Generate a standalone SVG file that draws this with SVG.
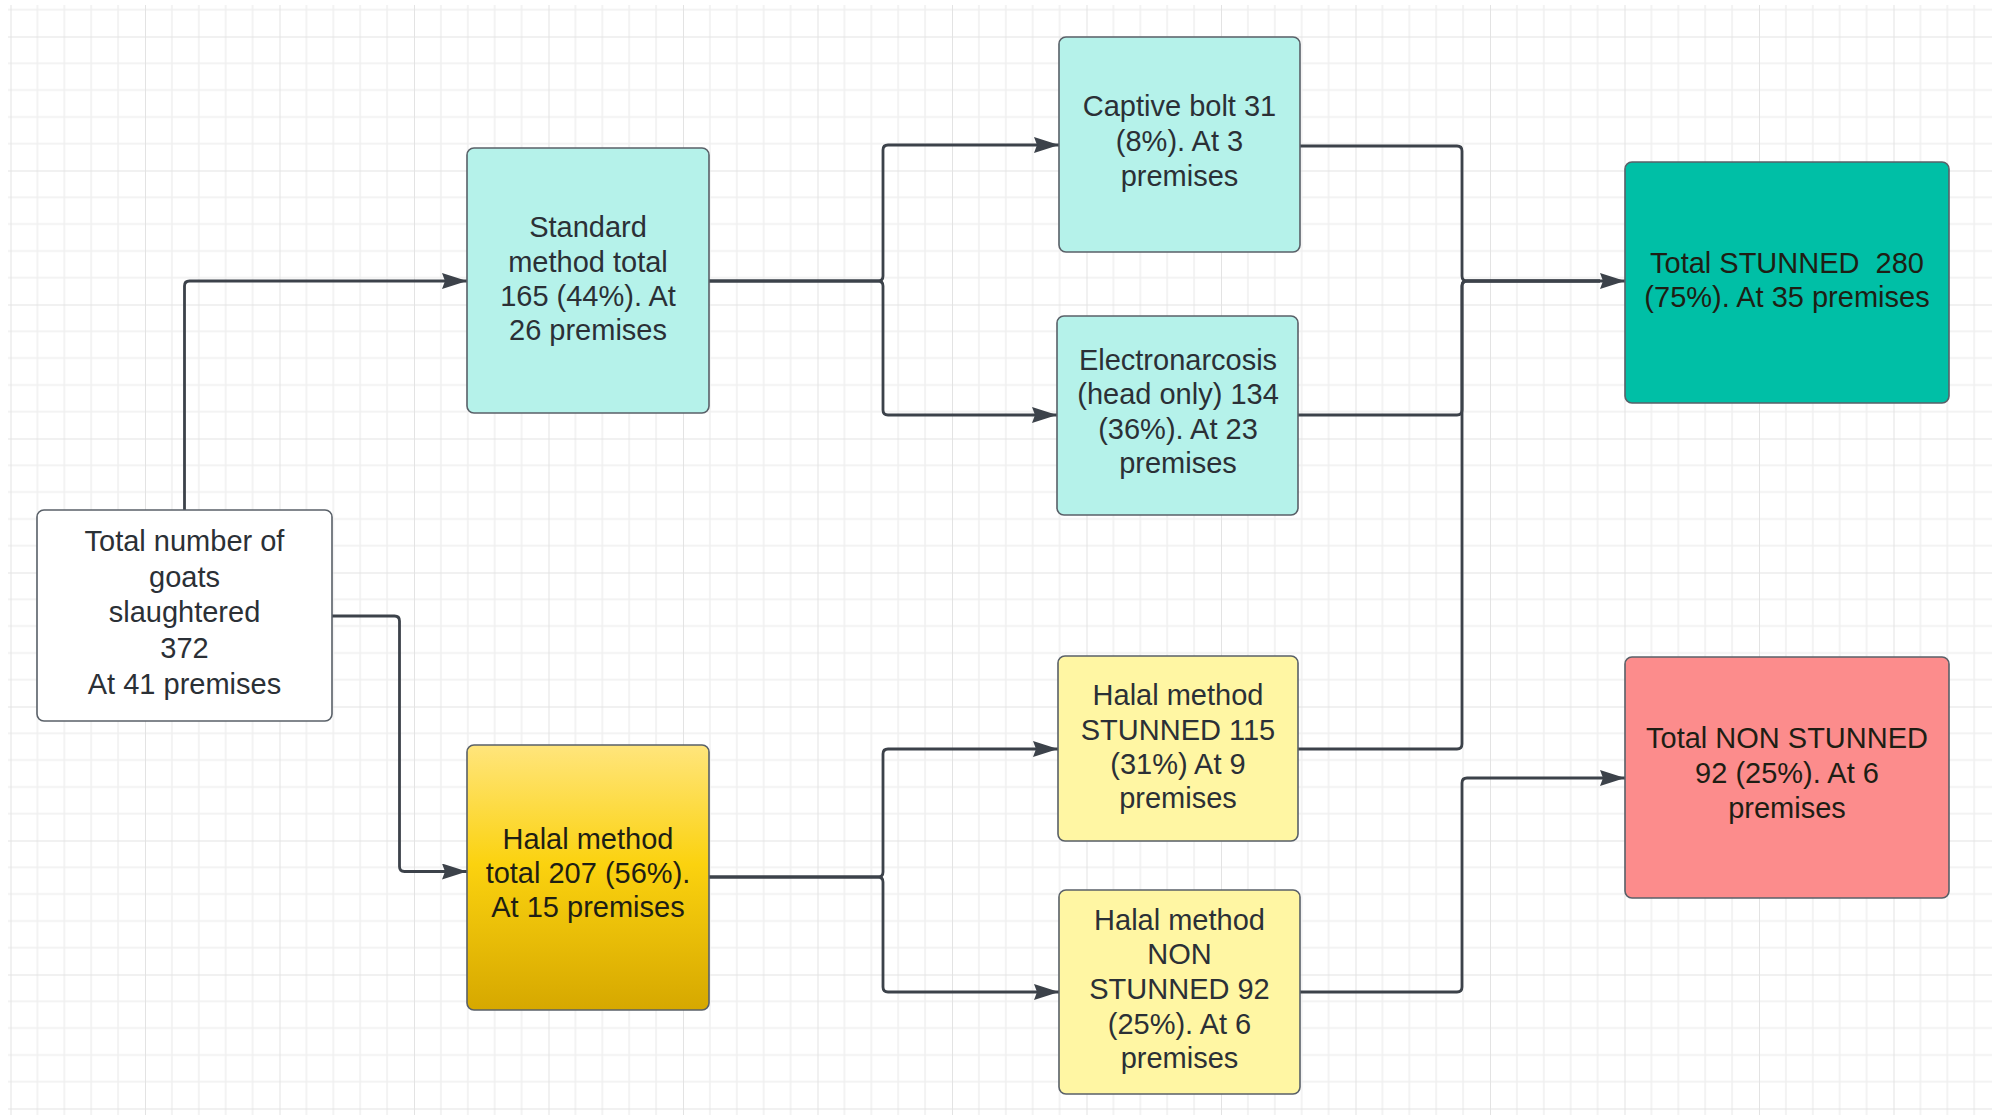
<svg xmlns="http://www.w3.org/2000/svg" width="1995" height="1117" viewBox="0 0 1995 1117">
  <defs>
    <pattern id="grid" x="10.5" y="36.5" width="134.5" height="134" patternUnits="userSpaceOnUse">
      <g stroke="#efefef" stroke-width="1.5">
        <line x1="26.9" y1="0" x2="26.9" y2="134"/>
        <line x1="53.8" y1="0" x2="53.8" y2="134"/>
        <line x1="80.7" y1="0" x2="80.7" y2="134"/>
        <line x1="107.6" y1="0" x2="107.6" y2="134"/>
        <line x1="0" y1="26.8" x2="134.5" y2="26.8"/>
        <line x1="0" y1="53.6" x2="134.5" y2="53.6"/>
        <line x1="0" y1="80.4" x2="134.5" y2="80.4"/>
        <line x1="0" y1="107.2" x2="134.5" y2="107.2"/>
      </g>
      <g stroke="#e3e3e3" stroke-width="2">
        <line x1="0" y1="0" x2="0" y2="134"/>
        <line x1="0" y1="0" x2="134.5" y2="0"/>
      </g>
    </pattern>
    <linearGradient id="halalGrad" x1="0" y1="0" x2="0" y2="1">
      <stop offset="0" stop-color="#ffe57c"/>
      <stop offset="0.45" stop-color="#fbd20f"/>
      <stop offset="1" stop-color="#d6a800"/>
    </linearGradient>
    <marker id="arrow" markerUnits="userSpaceOnUse" markerWidth="26" markerHeight="18" refX="25" refY="8" orient="auto">
      <path d="M0,0 L25,8 L0,16 L3,8 z" fill="#3c424a"/>
    </marker>
    <style>
      .node rect { stroke: #596068; stroke-width: 1.6; }
      .lbl { font-family: "Liberation Sans", Arial, sans-serif; font-size: 29px; fill: #2b3036; text-anchor: middle; }
      .lbl.dark { fill: #1e1e14; }
      .conn path { fill: none; stroke: #3c424a; stroke-width: 2.8; stroke-linejoin: round; }
      .conn path.arr { marker-end: url(#arrow); }
    </style>
  </defs>

  <rect x="0" y="0" width="1995" height="1117" fill="#ffffff"/>
  <rect x="8" y="5" width="1984" height="1110" fill="url(#grid)"/>

  <g id="connectors" class="conn">
    <path class="arr" d="M184.5,510 V286 Q184.5,281 189.5,281 H467"/>
    <path class="arr" d="M332,616 H394.5 Q399.5,616 399.5,621 V866.5 Q399.5,871.5 404.5,871.5 H467"/>
    <path class="arr" d="M709,281 H878 Q883,281 883,276 V150 Q883,145 888,145 H1059"/>
    <path class="arr" d="M709,281 H878 Q883,281 883,286 V410 Q883,415 888,415 H1057"/>
    <path class="arr" d="M709,877 H878 Q883,877 883,872 V754 Q883,749 888,749 H1058"/>
    <path class="arr" d="M709,877 H878 Q883,877 883,882 V987 Q883,992 888,992 H1059"/>
    <path class="arr" d="M1300,146 H1457 Q1462,146 1462,151 V276 Q1462,281 1467,281 H1625"/>
    <path d="M1298,415 H1457 Q1462,415 1462,410 V286 Q1462,281 1467,281 H1600"/>
    <path d="M1298,749 H1457 Q1462,749 1462,744 V286 Q1462,281 1467,281 H1600"/>
    <path class="arr" d="M1300,992 H1457 Q1462,992 1462,987 V783 Q1462,778 1467,778 H1625"/>
  </g>

  <g id="node-total" class="node">
    <rect x="37" y="510" width="295" height="211" rx="7" fill="#ffffff"/>
    <text class="lbl" x="184.5" y="551">Total number of</text>
    <text class="lbl" x="184.5" y="587">goats</text>
    <text class="lbl" x="184.5" y="622">slaughtered</text>
    <text class="lbl" x="184.5" y="658">372</text>
    <text class="lbl" x="184.5" y="694">At 41 premises</text>
  </g>

  <g id="node-standard" class="node">
    <rect x="467" y="148" width="242" height="265" rx="7" fill="#b5f2ea"/>
    <text class="lbl" x="588" y="237">Standard</text>
    <text class="lbl" x="588" y="272">method total</text>
    <text class="lbl" x="588" y="306">165 (44%). At</text>
    <text class="lbl" x="588" y="340">26 premises</text>
  </g>

  <g id="node-halal" class="node">
    <rect x="467" y="745" width="242" height="265" rx="7" fill="url(#halalGrad)"/>
    <text class="lbl dark" x="588" y="849">Halal method</text>
    <text class="lbl dark" x="588" y="883">total 207 (56%).</text>
    <text class="lbl dark" x="588" y="917">At 15 premises</text>
  </g>

  <g id="node-captive" class="node">
    <rect x="1059" y="37" width="241" height="215" rx="7" fill="#b5f2ea"/>
    <text class="lbl" x="1179.5" y="116">Captive bolt 31</text>
    <text class="lbl" x="1179.5" y="151">(8%). At 3</text>
    <text class="lbl" x="1179.5" y="186">premises</text>
  </g>

  <g id="node-electro" class="node">
    <rect x="1057" y="316" width="241" height="199" rx="7" fill="#b5f2ea"/>
    <text class="lbl" x="1178" y="370">Electronarcosis</text>
    <text class="lbl" x="1178" y="404">(head only) 134</text>
    <text class="lbl" x="1178" y="439">(36%). At 23</text>
    <text class="lbl" x="1178" y="473">premises</text>
  </g>

  <g id="node-halal-stunned" class="node">
    <rect x="1058" y="656" width="240" height="185" rx="7" fill="#fff6a3"/>
    <text class="lbl" x="1178" y="705">Halal method</text>
    <text class="lbl" x="1178" y="740">STUNNED 115</text>
    <text class="lbl" x="1178" y="774">(31%) At 9</text>
    <text class="lbl" x="1178" y="808">premises</text>
  </g>

  <g id="node-halal-nonstunned" class="node">
    <rect x="1059" y="890" width="241" height="204" rx="7" fill="#fff6a3"/>
    <text class="lbl" x="1179.5" y="930">Halal method</text>
    <text class="lbl" x="1179.5" y="964">NON</text>
    <text class="lbl" x="1179.5" y="999">STUNNED 92</text>
    <text class="lbl" x="1179.5" y="1034">(25%). At 6</text>
    <text class="lbl" x="1179.5" y="1068">premises</text>
  </g>

  <g id="node-total-stunned" class="node">
    <rect x="1625" y="162" width="324" height="241" rx="7" fill="#00bfa6"/>
    <text class="lbl dark" x="1787" y="273" xml:space="preserve">Total STUNNED  280</text>
    <text class="lbl dark" x="1787" y="307">(75%). At 35 premises</text>
  </g>

  <g id="node-total-nonstunned" class="node">
    <rect x="1625" y="657" width="324" height="241" rx="7" fill="#fc8c8c"/>
    <text class="lbl dark" x="1787" y="748">Total NON STUNNED</text>
    <text class="lbl dark" x="1787" y="783">92 (25%). At 6</text>
    <text class="lbl dark" x="1787" y="818">premises</text>
  </g>
</svg>
